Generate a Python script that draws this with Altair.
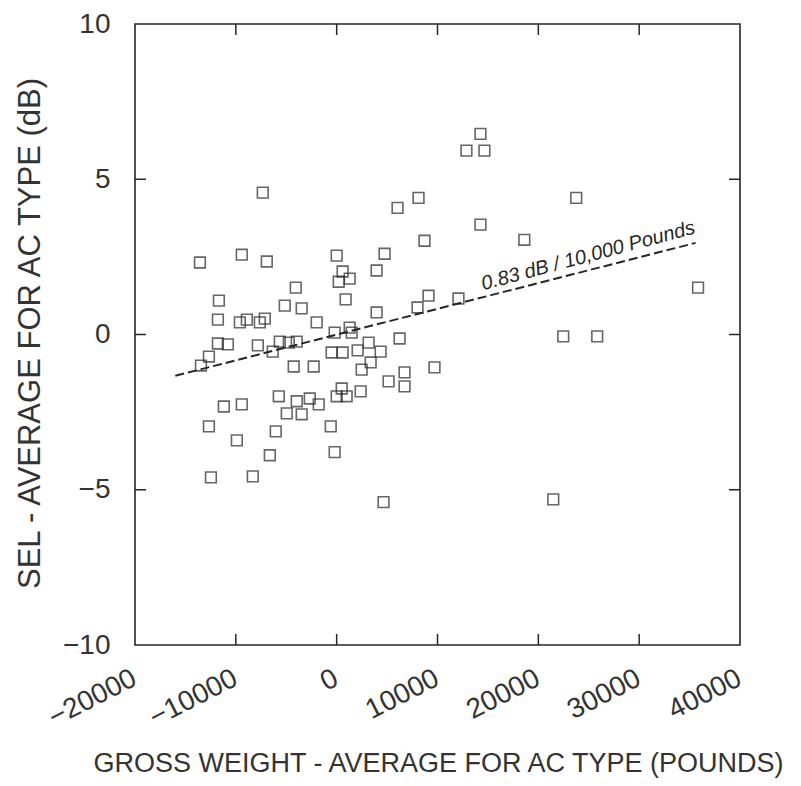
import altair as alt
import pandas as pd

# Gross weight deviation (pounds) and SEL deviation (dB)
gross_weight = [
    -7330, 6040, 8120, 8710, -13560, -9410, -6930, 0, 4750, 3960,
    590, 1290, 200, 890, -4060, -11680, -5150, -3470, -1980, 3960,
    9110, 8020, -11780, -9600, -8910, -7620, -7130, 14260, 12870, 14650,
    23760, 14260, 18610, 35840, 12080, 6240, 22470, 25840, 9700, 6730,
    6730, 5150, 4650, 21480, -11780, -10790, -12670, -7820, -5640, -4750,
    -3960, -6340, -13460, -4260, -2280, -200, 1290, 1490, 3170, -500,
    590, 2080, 4360, 3370, 2480, 0, 990, 500, 2380, -11190,
    -9410, -5740, -3960, -2670, -1780, -4950, -3470, -12670, -9900, -6040,
    -6630, -590, -200, -12470, -8320,
]
sel_dev = [
    4.57, 4.08, 4.40, 3.02, 2.32, 2.57, 2.35, 2.54, 2.60, 2.06,
    2.03, 1.80, 1.70, 1.13, 1.51, 1.09, 0.93, 0.84, 0.39, 0.71,
    1.25, 0.87, 0.48, 0.39, 0.48, 0.39, 0.51, 6.46, 5.92, 5.92,
    4.40, 3.54, 3.05, 1.51, 1.16, -0.13, -0.06, -0.06, -1.06, -1.22,
    -1.67, -1.51, -5.40, -5.31, -0.29, -0.32, -0.71, -0.35, -0.23, -0.26,
    -0.23, -0.55, -1.00, -1.03, -1.03, 0.06, 0.22, 0.06, -0.26, -0.58,
    -0.58, -0.51, -0.55, -0.90, -1.13, -1.99, -1.99, -1.74, -1.83, -2.32,
    -2.25, -1.99, -2.15, -2.06, -2.25, -2.54, -2.57, -2.96, -3.41, -3.12,
    -3.89, -2.96, -3.79, -4.60, -4.57,
]

# Regression line end points
fit_x = [-16000, 35600]
fit_y = [-1.33, 2.95]
fit_label = "0.83 dB / 10,000 Pounds"
label_x = 25300

x_axis_values = [-20000, -10000, 0, 10000, 20000, 30000, 40000]
y_axis_values = [-10, -5, 0, 5, 10]
x_inner_ticks = [-10000, 0, 10000, 20000, 30000]
y_inner_ticks = [-5, 0, 5]

W, H = 605, 621
FONT = "Liberation Sans"
INK = "#262626"

pts = pd.DataFrame({"gw": gross_weight, "sel": sel_dev})
fit = pd.DataFrame({"gw": fit_x, "sel": fit_y})
slope = (fit_y[1] - fit_y[0]) / (fit_x[1] - fit_x[0])
lab = pd.DataFrame({"gw": [label_x], "sel": [fit_y[0] + slope * (label_x - fit_x[0])], "t": [fit_label]})
xt = pd.DataFrame({"gw": x_inner_ticks})
yt = pd.DataFrame({"sel": y_inner_ticks})

xs = alt.Scale(domain=[-20000, 40000], nice=False, zero=False)
ys = alt.Scale(domain=[-10, 10], nice=False, zero=False)

x_enc = alt.X(
    "gw:Q", scale=xs,
    axis=alt.Axis(
        title="GROSS WEIGHT - AVERAGE FOR AC TYPE (POUNDS)",
        values=x_axis_values, format="d",
        labelAngle=-27, labelAlign="right", labelBaseline="top",
        labelPadding=19, labelOffset=-7, labelFontSize=28,
        titleFontSize=27, titleX=303, titleY=126, titleBaseline="alphabetic",
        titleAlign="center",
    ),
)
y_enc = alt.Y(
    "sel:Q", scale=ys,
    axis=alt.Axis(
        title="SEL - AVERAGE FOR AC TYPE (dB)",
        values=y_axis_values, format="d",
        labelPadding=25, labelFontSize=28,
        titleFontSize=31, titleX=-105, titleY=309, titleBaseline="middle",
        titleAlign="center", titleAngle=-90,
    ),
)

points = alt.Chart(pts).mark_square(
    filled=False, size=115, stroke=INK, strokeWidth=1.6
).encode(x=x_enc, y=y_enc)

line = alt.Chart(fit).mark_line(
    color=INK, strokeWidth=2, strokeDash=[9, 4]
).encode(x=alt.X("gw:Q", scale=xs), y=alt.Y("sel:Q", scale=ys))

text = alt.Chart(lab).mark_text(
    angle=345, align="center", baseline="bottom", dy=-4,
    font=FONT, fontSize=20, fontStyle="italic", color=INK,
).encode(x=alt.X("gw:Q", scale=xs), y=alt.Y("sel:Q", scale=ys), text="t:N")

tick_style = dict(color=INK, strokeWidth=1.5)
bottom_ticks = alt.Chart(xt).mark_rule(**tick_style).encode(
    x=alt.X("gw:Q", scale=xs), y=alt.value(H), y2=alt.value(H - 11))
top_ticks = alt.Chart(xt).mark_rule(**tick_style).encode(
    x=alt.X("gw:Q", scale=xs), y=alt.value(0), y2=alt.value(11))
left_ticks = alt.Chart(yt).mark_rule(**tick_style).encode(
    y=alt.Y("sel:Q", scale=ys), x=alt.value(0), x2=alt.value(11))
right_ticks = alt.Chart(yt).mark_rule(**tick_style).encode(
    y=alt.Y("sel:Q", scale=ys), x=alt.value(W), x2=alt.value(W - 11))

chart = (
    alt.layer(points, line, text, bottom_ticks, top_ticks, left_ticks, right_ticks)
    .properties(
        width=W, height=H,
        autosize=alt.AutoSizeParams(type="none"),
        padding={"left": 127, "top": 16, "right": 52, "bottom": 133},
        background="white",
    )
    .configure_view(stroke=INK, strokeWidth=1.6)
    .configure_axis(
        grid=False, domain=False, ticks=False,
        labelFont=FONT, titleFont=FONT, labelColor="#333", titleColor="#333",
        titleFontWeight="normal",
    )
)

chart.save("out.html", embed_options={"renderer": "svg", "actions": False})
